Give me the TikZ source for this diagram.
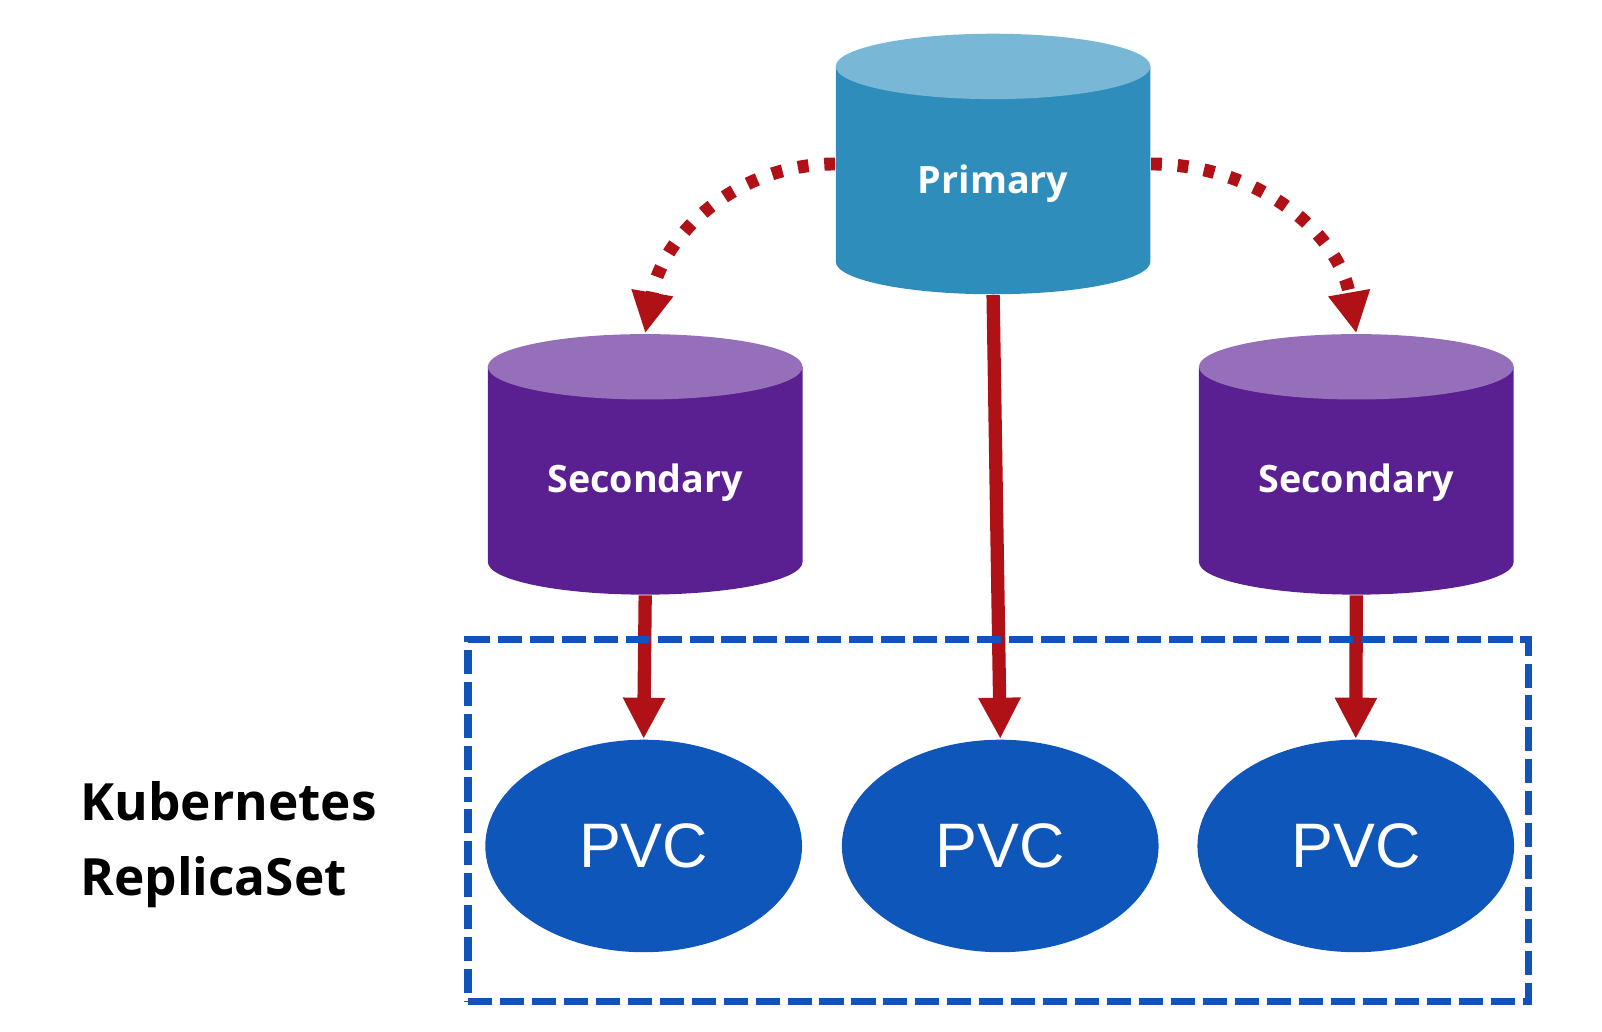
\documentclass[tikz,border=0pt]{standalone}
\usepackage{fontspec}
\setmainfont{Open Sans}
\newfontfamily\pvcfont{Liberation Sans}
\usetikzlibrary{arrows.meta,shapes.geometric}

\definecolor{primtop}{HTML}{78B8D6}
\definecolor{primbody}{HTML}{2F8DBB}
\definecolor{sectop}{HTML}{966FBB}
\definecolor{secbody}{HTML}{5A1F90}
\definecolor{pvcblue}{HTML}{0F56BB}
\definecolor{boxblue}{HTML}{1253BB}
\definecolor{arrowred}{HTML}{B01116}

\begin{document}
\begin{tikzpicture}[
    db/.style 2 args={rectangle, inner sep=0pt, minimum width=3.08cm, minimum height=2.55cm,
        path picture={
            \fill[#2] ([yshift=-0.32cm]path picture bounding box.north west)
                -- ([yshift=0.32cm]path picture bounding box.south west)
                arc[start angle=180, end angle=360, x radius=1.54cm, y radius=0.32cm]
                -- ([yshift=-0.32cm]path picture bounding box.north east) -- cycle;
            \fill[#1] ([yshift=-0.32cm]path picture bounding box.north) ellipse [x radius=1.54cm, y radius=0.32cm];
        }},
    dbtext/.style={text=white, inner sep=0pt, font=\fontsize{10.5}{12}\selectfont\bfseries},
    pvc/.style={ellipse, fill=pvcblue, inner sep=0pt, minimum width=3.10cm, minimum height=2.08cm,
        text=white, font=\pvcfont\fontsize{17.5}{20}\selectfont},
    flow/.style={arrowred, line width=3.7pt, -{Triangle[width=11pt,length=11.5pt]}},
    sync/.style={arrowred, line width=3.6pt, dash pattern=on 3pt off 4.4pt, -{Triangle[width=11pt,length=11.5pt]}},
    rsbox/.style={draw=boxblue, line width=2.1pt, dash pattern=on 6.7pt off 2.2pt, inner sep=0pt,
        minimum width=10.38cm, minimum height=3.54cm},
    k8s/.style={align=left, inner sep=0pt, font=\fontsize{14.3}{20.8}\selectfont\bfseries}
]
    \useasboundingbox (0,0) rectangle (15.68,-10.10);

    % databases
    \node[db={primtop}{primbody}, label={[dbtext, yshift=-0.19cm]center:Primary}] (prim) at (9.72,-1.605) {};
    \node[db={sectop}{secbody}, label={[dbtext, yshift=-0.175cm]center:Secondary}] (secL) at (6.315,-4.545) {};
    \node[db={sectop}{secbody}, label={[dbtext, yshift=-0.175cm]center:Secondary}] (secR) at (13.275,-4.545) {};

    % volumes
    \node[pvc] (pvcL) at (6.30,-8.28) {PVC};
    \node[pvc] (pvcM) at (9.79,-8.28) {PVC};
    \node[pvc] (pvcR) at (13.27,-8.28) {PVC};

    \node[k8s, anchor=west] (k8s) at (0.78,-8.27) {Kubernetes\\ReplicaSet};

    % replication
    \draw[sync] (prim.west) to[out=180, in=80] (secL.north);
    \draw[sync] (prim.east) to[out=0, in=100] (secR.north);

    \draw[flow] (secL.south) -- (pvcL.north);
    \draw[flow] (prim.south) -- (pvcM.north);
    \draw[flow] (secR.south) -- (pvcR.north);

    \node[rsbox] (rs) at (9.77,-8.03) {};
\end{tikzpicture}
\end{document}
